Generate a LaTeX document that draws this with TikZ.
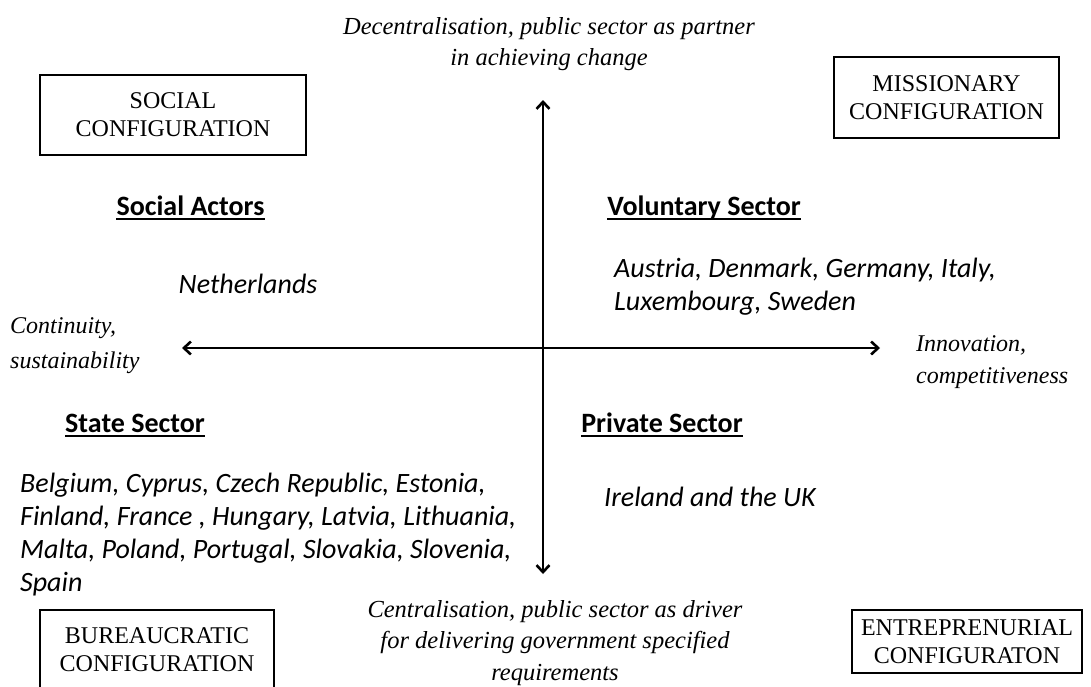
\documentclass[tikz,border=0pt]{standalone}
\usepackage{fontspec}
\setmainfont{Liberation Serif}
\newfontfamily\calibri{Carlito}
\usepackage{tikz}
\usetikzlibrary{arrows.meta}

\tikzset{
  confbox/.style={draw, line width=2.8pt, align=center, inner sep=0pt,
    font=\fontsize{24}{28.3}\selectfont},
  axislabel/.style={align=center, inner sep=0pt,
    font=\fontsize{24.5}{31.5}\selectfont\itshape},
  sector/.style={inner sep=0pt, anchor=base, font=\fontsize{28}{33}\selectfont\calibri\bfseries},
  uline/.style={line width=2.2pt},
  countries/.style={align=left, inner sep=0pt,
    font=\fontsize{28}{33}\selectfont\calibri\itshape},
  axis/.style={line width=2.6pt, {Straight Barb[length=7pt,width=13pt]}-{Straight Barb[length=7pt,width=13pt]}}
}

\begin{document}
\begin{tikzpicture}[x=1pt, y=-1pt]
            \useasboundingbox (0,0) rectangle (1091,686);
            \clip (0,0) rectangle (1091,686);
            % configurations
            \node[confbox, minimum width=266, minimum height=80] (social) at (173,115)
                  {SOCIAL\\CONFIGURATION};
            \node[confbox, minimum width=225, minimum height=81] (missionary) at (946.5,97.5)
                  {MISSIONARY\\CONFIGURATION};
            \node[confbox, minimum width=234, minimum height=80] (bureau) at (157,650)
                  {BUREAUCRATIC\\CONFIGURATION};
            \node[confbox, minimum width=230, minimum height=63] (entre) at (967,641.5)
                  {ENTREPRENURIAL\\CONFIGURATON};
            % axes
            \coordinate (top) at (543,100);
            \coordinate (bottom) at (543,574);
            \coordinate (left) at (182,348);
            \coordinate (right) at (880,348);
            \draw[axis] (top) -- (bottom);
            \draw[axis] (left) -- (right);
            \node[axislabel] (decentral) at (549,44)
                  {Decentralisation, public sector as partner\\in achieving change};
            \node[axislabel] (central) at (555,643)
                  {Centralisation, public sector as driver\\for delivering government specified\\requirements};
            \node[axislabel, align=left, anchor=west,
                  font=\fontsize{24}{35}\selectfont\itshape] (continuity) at (10,346)
                  {Continuity,\\sustainability};
            \node[axislabel, align=left, anchor=west,
                  font=\fontsize{24}{31.5}\selectfont\itshape] (innovation) at (916,362)
                  {Innovation,\\competitiveness};
            % sectors
            \node[sector] (socialact) at (190.5,215) {Social Actors};
            \node[sector] (voluntary) at (704,215) {Voluntary Sector};
            \node[sector] (state) at (135,432) {State Sector};
            \node[sector] (private) at (662,432) {Private Sector};
            \foreach \s in {socialact, voluntary, state, private}
              \draw[uline] ([yshift=-4pt]\s.base west) -- ([yshift=-4pt]\s.base east);
            % countries
            \node[countries] (nl) at (248,284) {Netherlands};
            \node[countries, anchor=west] (vol) at (614,287)
                  {Austria, Denmark, Germany, Italy,\\Luxembourg, Sweden};
            \node[countries, anchor=west] (stc) at (20,535)
                  {Belgium, Cyprus, Czech Republic, Estonia,\\Finland, France , Hungary, Latvia, Lithuania,\\Malta, Poland, Portugal, Slovakia, Slovenia,\\Spain};
            \node[countries, anchor=west] (uk) at (604,497) {Ireland and the UK};
\end{tikzpicture}
\end{document}
